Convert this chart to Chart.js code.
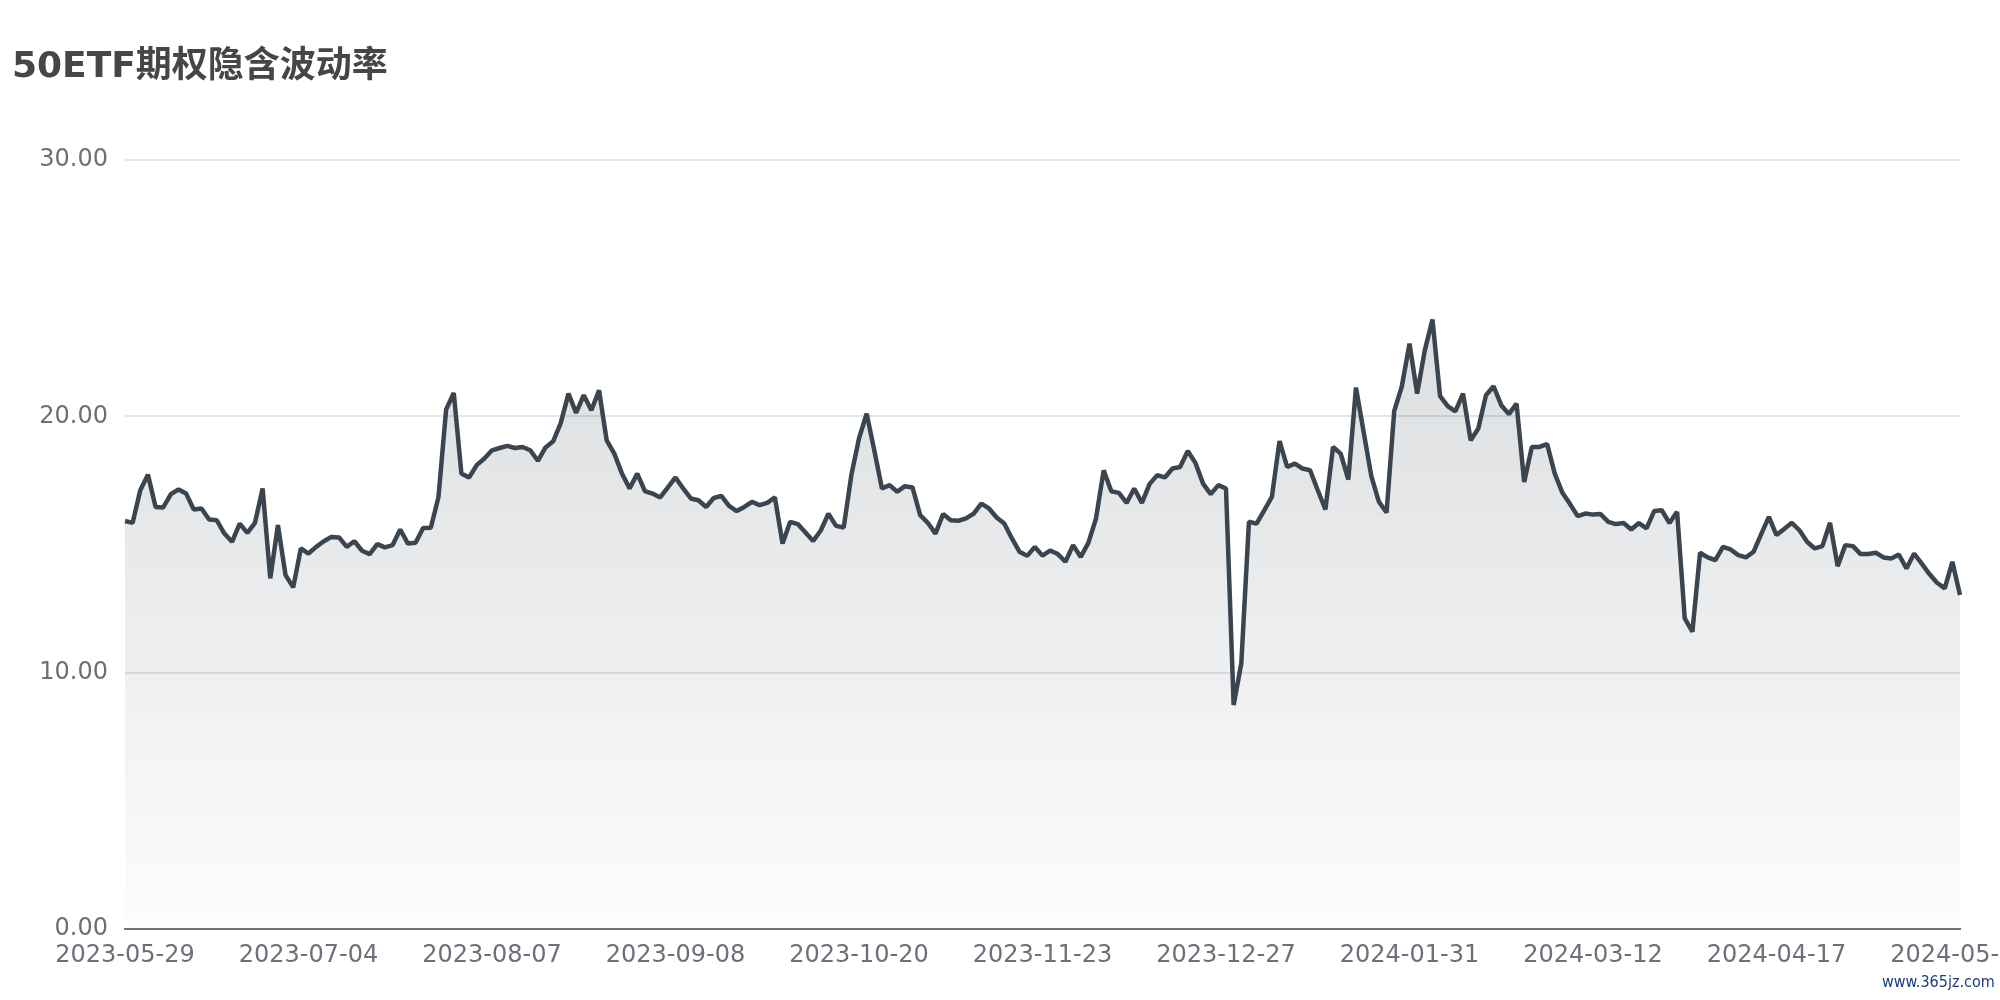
<!DOCTYPE html>
<html>
<head>
<meta charset="utf-8">
<script src="https://cdn.jsdelivr.net/npm/chart.js@4.4.1/dist/chart.umd.min.js"></script>
<style>
  html, body { margin: 0; padding: 0; background: #fff; overflow: hidden; }
  #wrap { position: relative; width: 2060px; height: 1000px; }
  #mark { position: absolute; left: 1882px; top: 972px; font: 16px "DejaVu Sans Condensed", "DejaVu Sans"; color: #1b3d7c; white-space: nowrap; }
</style>
</head>
<body>
<div id="wrap">
  <canvas id="ivChart"></canvas>
  <div id="mark">www.365jz.com</div>
</div>
<script>
// trading days, 2023-05-29 .. 2024-05-24
const dates = [
  '2023-05-29','2023-05-30','2023-05-31',
  '2023-06-01','2023-06-02','2023-06-05','2023-06-06','2023-06-07','2023-06-08','2023-06-09','2023-06-12','2023-06-13','2023-06-14',
  '2023-06-15','2023-06-16','2023-06-19','2023-06-20','2023-06-21','2023-06-26','2023-06-27','2023-06-28','2023-06-29','2023-06-30',
  '2023-07-03','2023-07-04','2023-07-05','2023-07-06','2023-07-07','2023-07-10','2023-07-11','2023-07-12','2023-07-13','2023-07-14',
  '2023-07-17','2023-07-18','2023-07-19','2023-07-20','2023-07-21','2023-07-24','2023-07-25','2023-07-26','2023-07-27','2023-07-28','2023-07-31',
  '2023-08-01','2023-08-02','2023-08-03','2023-08-04','2023-08-07','2023-08-08','2023-08-09','2023-08-10','2023-08-11','2023-08-14','2023-08-15',
  '2023-08-16','2023-08-17','2023-08-18','2023-08-21','2023-08-22','2023-08-23','2023-08-24','2023-08-25','2023-08-28','2023-08-29','2023-08-30','2023-08-31',
  '2023-09-01','2023-09-04','2023-09-05','2023-09-06','2023-09-07','2023-09-08','2023-09-11','2023-09-12','2023-09-13','2023-09-14',
  '2023-09-15','2023-09-18','2023-09-19','2023-09-20','2023-09-21','2023-09-22','2023-09-25','2023-09-26','2023-09-27','2023-09-28',
  '2023-10-09','2023-10-10','2023-10-11','2023-10-12','2023-10-13','2023-10-16','2023-10-17','2023-10-18','2023-10-19','2023-10-20',
  '2023-10-23','2023-10-24','2023-10-25','2023-10-26','2023-10-27','2023-10-30','2023-10-31',
  '2023-11-01','2023-11-02','2023-11-03','2023-11-06','2023-11-07','2023-11-08','2023-11-09','2023-11-10','2023-11-13','2023-11-14','2023-11-15',
  '2023-11-16','2023-11-17','2023-11-20','2023-11-21','2023-11-22','2023-11-23','2023-11-24','2023-11-27','2023-11-28','2023-11-29','2023-11-30',
  '2023-12-01','2023-12-04','2023-12-05','2023-12-06','2023-12-07','2023-12-08','2023-12-11','2023-12-12','2023-12-13','2023-12-14','2023-12-15',
  '2023-12-18','2023-12-19','2023-12-20','2023-12-21','2023-12-22','2023-12-25','2023-12-26','2023-12-27','2023-12-28','2023-12-29',
  '2024-01-02','2024-01-03','2024-01-04','2024-01-05','2024-01-08','2024-01-09','2024-01-10','2024-01-11','2024-01-12','2024-01-15','2024-01-16',
  '2024-01-17','2024-01-18','2024-01-19','2024-01-22','2024-01-23','2024-01-24','2024-01-25','2024-01-26','2024-01-29','2024-01-30','2024-01-31',
  '2024-02-01','2024-02-02','2024-02-05','2024-02-06','2024-02-07','2024-02-08','2024-02-09','2024-02-19','2024-02-20','2024-02-21','2024-02-22',
  '2024-02-23','2024-02-26','2024-02-27','2024-02-28','2024-02-29',
  '2024-03-01','2024-03-04','2024-03-05','2024-03-06','2024-03-07','2024-03-08','2024-03-11','2024-03-12','2024-03-13','2024-03-14','2024-03-15',
  '2024-03-18','2024-03-19','2024-03-20','2024-03-21','2024-03-22','2024-03-25','2024-03-26','2024-03-27','2024-03-28','2024-03-29',
  '2024-04-01','2024-04-02','2024-04-03','2024-04-08','2024-04-09','2024-04-10','2024-04-11','2024-04-12','2024-04-15','2024-04-16','2024-04-17',
  '2024-04-18','2024-04-19','2024-04-22','2024-04-23','2024-04-24','2024-04-25','2024-04-26','2024-04-29','2024-04-30',
  '2024-05-06','2024-05-07','2024-05-08','2024-05-09','2024-05-10','2024-05-13','2024-05-14','2024-05-15','2024-05-16','2024-05-17',
  '2024-05-20','2024-05-21','2024-05-22','2024-05-23','2024-05-24'
];

// implied volatility
const ivValues = [
  15.92, 15.85, 17.12, 17.73, 16.47, 16.45, 16.97, 17.15, 16.99, 16.37,
  16.41, 15.98, 15.95, 15.43, 15.11, 15.82, 15.46, 15.85, 17.19, 13.68,
  15.76, 13.81, 13.33, 14.85, 14.65, 14.91, 15.13, 15.30, 15.28, 14.91,
  15.13, 14.76, 14.63, 15.02, 14.89, 14.98, 15.59, 15.04, 15.07, 15.65,
  15.66, 16.86, 20.27, 20.92, 17.77, 17.62, 18.10, 18.36, 18.68, 18.77,
  18.85, 18.77, 18.81, 18.68, 18.27, 18.79, 19.03, 19.75, 20.89, 20.14,
  20.83, 20.24, 21.02, 19.07, 18.55, 17.77, 17.19, 17.77, 17.09, 16.99,
  16.84, 17.23, 17.62, 17.19, 16.80, 16.73, 16.47, 16.82, 16.90, 16.51,
  16.31, 16.47, 16.67, 16.54, 16.63, 16.84, 15.04, 15.89, 15.80, 15.47,
  15.14, 15.55, 16.21, 15.73, 15.67, 17.71, 19.14, 20.11, 18.68, 17.19,
  17.32, 17.06, 17.28, 17.23, 16.15, 15.85, 15.43, 16.19, 15.95, 15.93,
  16.02, 16.21, 16.60, 16.41, 16.06, 15.82, 15.24, 14.72, 14.56, 14.91,
  14.57, 14.77, 14.63, 14.33, 14.98, 14.52, 15.07, 16.02, 17.90, 17.08,
  17.02, 16.63, 17.19, 16.63, 17.36, 17.71, 17.62, 17.97, 18.03, 18.65,
  18.19, 17.38, 16.97, 17.32, 17.19, 8.74, 10.36, 15.89, 15.82, 16.34,
  16.86, 19.04, 18.03, 18.16, 17.97, 17.90, 17.12, 16.37, 18.81, 18.55,
  17.54, 21.13, 19.40, 17.68, 16.67, 16.25, 20.21, 21.18, 22.84, 20.89,
  22.58, 23.78, 20.79, 20.40, 20.20, 20.89, 19.07, 19.53, 20.83, 21.18,
  20.44, 20.09, 20.50, 17.44, 18.81, 18.81, 18.92, 17.77, 17.02, 16.58,
  16.11, 16.21, 16.17, 16.19, 15.89, 15.80, 15.84, 15.59, 15.84, 15.63,
  16.31, 16.34, 15.84, 16.28, 12.12, 11.60, 14.68, 14.50, 14.39, 14.91,
  14.81, 14.59, 14.50, 14.72, 15.41, 16.08, 15.37, 15.61, 15.85, 15.56,
  15.11, 14.85, 14.94, 15.85, 14.16, 14.98, 14.94, 14.63, 14.63, 14.68,
  14.50, 14.46, 14.61, 14.07, 14.65, 14.26, 13.85, 13.51, 13.29, 14.33,
  13.03
];

const yTicks = [0, 10, 20, 30];
const labelEvery = 24;

function areaGradient(context) {
  const chart = context.chart;
  const area = chart.chartArea;
  if (!area) return 'rgba(61,71,81,0.1)';
  const yScale = chart.scales.y;
  const top = yScale.getPixelForValue(Math.max(...ivValues));
  const g = chart.ctx.createLinearGradient(0, top, 0, area.bottom);
  g.addColorStop(0, 'rgba(61,71,81,0.18)');
  g.addColorStop(0.97, 'rgba(61,71,81,0.02)');
  g.addColorStop(1, 'rgba(61,71,81,0)');
  return g;
}

const ctx = document.getElementById('ivChart');

new Chart(ctx, {
  type: 'line',
  data: {
    labels: dates,
    datasets: [{
      data: ivValues,
      borderColor: '#3b4550',
      borderWidth: 4.5,
      borderJoinStyle: 'bevel',
      pointRadius: 0,
      tension: 0,
      fill: 'origin',
      backgroundColor: areaGradient
    }]
  },
  options: {
    responsive: true,
    maintainAspectRatio: false,
    animation: false,
    layout: { padding: { left: 12, right: 100, top: 0, bottom: 0 } },
    plugins: {
      legend: { display: false },
      tooltip: { enabled: false },
      title: {
        display: true,
        text: '50ETF期权隐含波动率',
        align: 'start',
        color: '#464646',
        font: { family: '"DejaVu Sans", "Noto Sans CJK SC"', size: 36, weight: 'bold', lineHeight: 1.2 },
        padding: { top: 46, bottom: 71 }
      }
    },
    scales: {
      x: {
        grid: { display: false, drawTicks: false },
        border: { display: true, color: '#6E7079', width: 2 },
        afterFit: s => { s.height = 71; },
        ticks: {
          autoSkip: false,
          maxRotation: 0,
          minRotation: 0,
          padding: 12,
          color: '#6E7079',
          font: { family: '"DejaVu Sans"', size: 24 },
          callback: function (val, i) { return i % labelEvery === 0 ? dates[i] : null; }
        }
      },
      y: {
        min: 0,
        max: 30,
        afterFit: s => { s.width = 113; },
        afterBuildTicks: s => { s.ticks = yTicks.map(v => ({ value: v })); },
        grid: { color: '#E0E6F1', lineWidth: 2, drawTicks: false },
        border: { display: false },
        ticks: {
          padding: 17,
          color: '#6E7079',
          font: { family: '"DejaVu Sans"', size: 24 },
          callback: v => v.toFixed(2)
        }
      }
    }
  }
});
</script>
</body>
</html>
